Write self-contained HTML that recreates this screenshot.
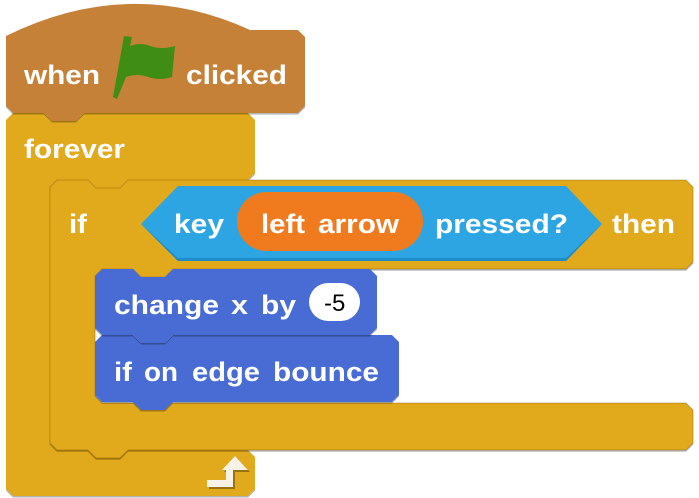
<!DOCTYPE html>
<html><head><style>
html,body{margin:0;padding:0;background:#fff;}
svg{display:block}
text{font-family:"Liberation Sans",sans-serif;font-weight:bold;font-size:27px;fill:#fff;}
</style></head><body>
<svg width="699" height="498" viewBox="0 0 699 498">
<defs>
<filter id="sh" x="-5%" y="-5%" width="110%" height="115%">
<feOffset dx="0" dy="1.5" in="SourceAlpha" result="o"/>
<feFlood flood-color="#000" flood-opacity="0.3"/>
<feComposite in2="o" operator="in" result="s"/>
<feMerge><feMergeNode in="s"/><feMergeNode in="SourceGraphic"/></feMerge>
</filter>
</defs>
<!-- forever -->
<path filter="url(#sh)" fill="#e1a91a" d="M6,120 L13,113 L44,113 L52,121 L76,121 L84,113 L248,113 L255,120 L255,173 L248,180 L128,180 L120,188 L96,188 L88,180 L57,180 L50,187 L50,443 L57,450 L248,450 L255,457 L255,489 L248,496 L13,496 L6,489 Z"/>
<!-- hat -->
<path filter="url(#sh)" fill="#c58137" d="M6,36 Q130,-25 250,30 L298,30 L305,37 L305,106 L298,113 L84,113 L76,121 L52,121 L44,113 L13,113 L6,106 Z"/>
<!-- if -->
<path filter="url(#sh)" fill="#e1a91a" stroke="rgba(120,80,0,0.35)" stroke-width="1" d="M50,187 L57,180 L88,180 L96,188 L120,188 L128,180 L686,180 L693,187 L693,262 L686,269 L173,269 L165,277 L141,277 L133,269 L102,269 L95,276 L95,396 L102,403 L686,403 L693,410 L693,443 L686,450 L128,450 L120,458 L96,458 L88,450 L57,450 L50,443 Z"/>
<!-- blue blocks -->
<path filter="url(#sh)" fill="#4a6cd4" d="M95,342 L102,335 L133,335 L141,343 L165,343 L173,335 L392,335 L399,342 L399,395 L392,402 L173,402 L165,410 L141,410 L133,402 L102,402 L95,395 Z"/>
<path filter="url(#sh)" fill="#4a6cd4" d="M95,276 L102,269 L133,269 L141,277 L165,277 L173,269 L370,269 L377,276 L377,328 L370,335 L173,335 L165,343 L141,343 L133,335 L102,335 L95,328 Z"/>
<!-- boolean -->
<path fill="#2ca5e2" d="M141,224 L178,186 L566,186 L602,224 L566,261 L178,261 Z"/>
<path fill="#1d8cc6" d="M141,224 L178,261 L566,261 L602,224 L566,258 L178,258 Z"/>
<rect x="237" y="192" width="186" height="59" rx="29.5" fill="#f07a1e"/>
<rect x="309" y="283" width="51" height="38" rx="19" fill="#fff"/>
<!-- flag -->
<path fill="#3f8d15" d="M113,97 L124,36 L132,37 L130,46 Q140,42 150,46 Q162,50 175,46 L172,77 Q160,81 148,77 Q137,73 126,77 L117,99 Z"/>
<!-- loop arrow -->
<g transform="translate(2,2)" fill="#9a7212">
<path d="M207,480 L226,480 L226,470 L222,470 L235,456 L248,470 L233,470 L233,487 L207,487 Z"/>
</g>
<path fill="#f6f2e6" d="M207,480 L226,480 L226,470 L222,470 L235,456 L248,470 L233,470 L233,487 L207,487 Z"/>
<!-- text -->
<text x="24" y="84" textLength="76" lengthAdjust="spacingAndGlyphs">when</text>
<text x="186" y="84" textLength="101" lengthAdjust="spacingAndGlyphs">clicked</text>
<text x="24" y="158" textLength="101" lengthAdjust="spacingAndGlyphs">forever</text>
<text x="69" y="233" textLength="18" lengthAdjust="spacingAndGlyphs">if</text>
<text x="174" y="233" textLength="50" lengthAdjust="spacingAndGlyphs">key</text>
<text x="261" y="233" textLength="44" lengthAdjust="spacingAndGlyphs">left</text>
<text x="318" y="233" textLength="81" lengthAdjust="spacingAndGlyphs">arrow</text>
<text x="435" y="233" textLength="133" lengthAdjust="spacingAndGlyphs">pressed?</text>
<text x="612" y="233" textLength="63" lengthAdjust="spacingAndGlyphs">then</text>
<text x="114" y="314" textLength="105" lengthAdjust="spacingAndGlyphs">change</text>
<text x="231" y="314" textLength="17" lengthAdjust="spacingAndGlyphs">x</text>
<text x="261" y="314" textLength="35" lengthAdjust="spacingAndGlyphs">by</text>
<text x="114" y="381" textLength="18" lengthAdjust="spacingAndGlyphs">if</text>
<text x="144" y="381" textLength="34" lengthAdjust="spacingAndGlyphs">on</text>
<text x="192" y="381" textLength="68" lengthAdjust="spacingAndGlyphs">edge</text>
<text x="273" y="381" textLength="106" lengthAdjust="spacingAndGlyphs">bounce</text>
<text x="324" y="311" style="font-weight:normal;font-size:24px;fill:#000">-5</text>
</svg>
</body></html>
